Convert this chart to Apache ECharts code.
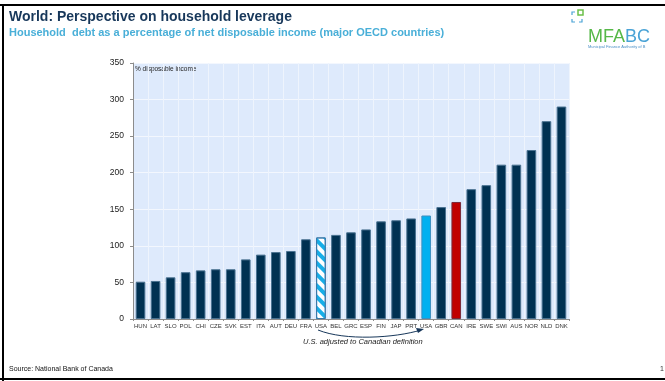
<!DOCTYPE html>
<html><head><meta charset="utf-8">
<script src="https://cdn.jsdelivr.net/npm/echarts@6/dist/echarts.min.js"></script>
<style>html,body{margin:0;padding:0;background:#fff}#c{width:665px;height:381px}</style>
</head><body><div id="c"></div>
<script>
var categories = ['HUN','LAT','SLO','POL','CHI','CZE','SVK','EST','ITA','AUT','DEU','FRA','USA','BEL','GRC','ESP','FIN','JAP','PRT','USA','GBR','CAN','IRE','SWE','SWI','AUS','NOR','NLD','DNK'];
var values = [51,52,57,64,66.5,68,68,81.5,88,91.5,93,109,111.5,115,118.5,122.5,133.5,135,137.5,141.5,153,160,177.5,183,211,211,231,270.5,290.5];
var yTicks = [0,50,100,150,200,250,300,350];
var hatchedIndex = 12, usaIndex = 19, canIndex = 21;

var navy = '#003152', edge = '#4a7291';
var data = values.map(function(v,i){
  if(i===hatchedIndex) return {value:v,itemStyle:{color:'#ffffff',borderColor:'#3a78a8',borderWidth:1,decal:{symbol:'rect',color:'#17aee8',dashArrayX:[1,0],dashArrayY:[4,4],rotation:Math.PI/4,symbolSize:1}}};
  if(i===usaIndex) return {value:v,itemStyle:{color:'#00b0f0',borderColor:'#3d8fc0'}};
  if(i===canIndex) return {value:v,itemStyle:{color:'#c00000',borderColor:'#7a2a3a'}};
  return v;
});
var chart = echarts.init(document.getElementById('c'));
chart.setOption({
  animation:false,
  backgroundColor:'#ffffff',
  grid:{left:133,right:96,top:63,bottom:62,show:true,backgroundColor:'#deeafc',borderWidth:0},
  xAxis:{type:'category',data:categories,
    axisLine:{lineStyle:{color:'#8c8c8c',width:1}},
    axisTick:{show:true,length:2,lineStyle:{color:'#8c8c8c'}},
    axisLabel:{fontSize:6,color:'#333',fontFamily:'Liberation Sans, Arial',margin:4,interval:0},
    splitLine:{show:true,lineStyle:{color:'#eef4fd',width:1}}},
  yAxis:{type:'value',min:yTicks[0],max:yTicks[yTicks.length-1],interval:50,
    axisLine:{show:true,lineStyle:{color:'#8c8c8c'}},
    axisTick:{show:true,length:3,lineStyle:{color:'#8c8c8c'}},
    axisLabel:{fontSize:8.5,color:'#222',fontFamily:'Liberation Sans, Arial',margin:9},
    splitLine:{show:true,lineStyle:{color:'#f3f7fe',width:1}}},
  series:[{type:'bar',data:data,barWidth:'64%',itemStyle:{color:navy,borderColor:edge,borderWidth:1}}],
  graphic:[
    {type:'rect',shape:{x:0,y:4,width:665,height:2},style:{fill:'#000'}},
    {type:'rect',shape:{x:2,y:4,width:2,height:377},style:{fill:'#000'}},
    {type:'rect',shape:{x:0,y:378,width:665,height:2},style:{fill:'#000'}},
    {type:'text',left:9,top:10,style:{text:'World: Perspective on household leverage',font:'bold 14px Liberation Sans, Arial',fill:'#17375a'}},
    {type:'text',left:9,top:27,style:{text:'Household  debt as a percentage of net disposable income (major OECD countries)',font:'bold 11px Liberation Sans, Arial',fill:'#49afd8'}},
    {type:'text',left:135,top:66,style:{text:'% disposable income',font:'6.5px Liberation Sans, Arial',fill:'#222'}},
    {type:'text',left:9,top:366,style:{text:'Source: National Bank of Canada',font:'7px Liberation Sans, Arial',fill:'#111'}},
    {type:'text',left:660,top:366,style:{text:'1',font:'7px Liberation Sans, Arial',fill:'#333'}},
    // logo
    {type:'polyline',shape:{points:[[572,15],[572,12],[575,12]]},style:{stroke:'#4aa3d6',lineWidth:1.2,fill:null}},
    {type:'polyline',shape:{points:[[572,19],[572,22],[575,22]]},style:{stroke:'#4aa3d6',lineWidth:1.2,fill:null}},
    {type:'polyline',shape:{points:[[579,22],[582,22],[582,19]]},style:{stroke:'#4aa3d6',lineWidth:1.2,fill:null}},
    {type:'rect',shape:{x:578,y:10,width:5,height:5},style:{fill:'#fff',stroke:'#6cc04a',lineWidth:1.5}},
    {type:'text',left:588,top:28,style:{rich:{a:{font:'18px Liberation Sans, Arial',fill:'#56b848'},b:{font:'18px Liberation Sans, Arial',fill:'#4aa3d6'}},text:'{a|MFA}{b|BC}'}},
    {type:'text',left:588,top:45,style:{text:'Municipal Finance Authority of B',font:'4px Liberation Sans, Arial',fill:'#4a8fc6'}},
    // annotation arrow
    {type:'bezierCurve',shape:{x1:318,y1:330,x2:421,y2:330,cpx1:345,cpy1:341,cpx2:395,cpy2:338},style:{stroke:'#17375a',lineWidth:1,fill:null}},
    {type:'polygon',shape:{points:[[424,329],[416,328],[418,333]]},style:{fill:'#17375a'}},
    {type:'text',left:303,top:338,style:{text:'U.S. adjusted to Canadian definition',font:'italic 7.5px Liberation Sans, Arial',fill:'#222'}}
  ]
});
</script></body></html>
